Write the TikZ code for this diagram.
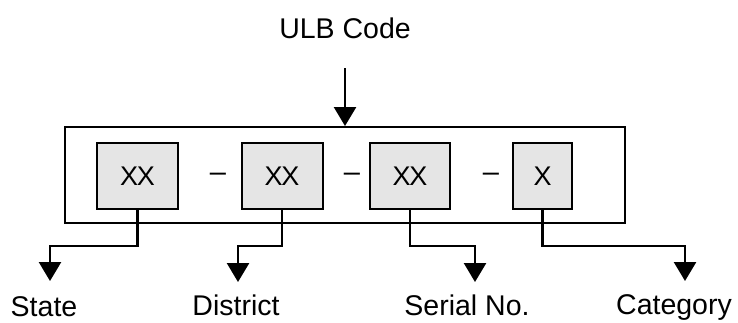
\documentclass[tikz,border=0pt]{standalone}
\usepackage{fontspec}
\setmainfont{Liberation Sans}
\usetikzlibrary{arrows.meta}
\tikzset{
  frame/.style={draw, line width=2pt, minimum width=560pt, minimum height=96pt, inner sep=0pt},
  field/.style={draw, line width=2pt, fill=black!10, minimum height=66pt, inner sep=0pt,
    font=\fontsize{27}{30}\selectfont},
  sep/.style={anchor=base, inner sep=0pt, font=\fontsize{29}{32}\selectfont},
  lbl/.style={anchor=base, inner sep=0pt, font=\fontsize{28.5}{32}\selectfont},
  conn/.style={line width=2.6pt, -{Triangle[width=22pt,length=19pt]}},
}
\begin{document}
\begin{tikzpicture}[x=1pt, y=-1pt]
  \useasboundingbox (0,0) rectangle (738,322);
  % heading and the main frame
  \node[lbl] (head) at (345,38) {ULB Code};
  \node[frame] (frame) at (345,175) {};
  \coordinate (top) at (345,68);
  \draw[conn] (top) -- (frame.north);
  % the four fields of the code
  \node[field, minimum width=81pt] (b1) at (137.5,176) {X\kern-1.5ptX};
  \node[field, minimum width=81pt] (b2) at (282,176) {X\kern-1.5ptX};
  \node[field, minimum width=80pt] (b3) at (410,176) {X\kern-1.5ptX};
  \node[field, minimum width=59pt] (b4) at (542.5,176) {X};
  \node[sep] (d1) at (218,181) {–};
  \node[sep] (d2) at (352,181) {–};
  \node[sep] (d3) at (491,181) {–};
  % arrow ends and labels
  \coordinate (t1) at (50,281);
  \coordinate (t2) at (238,282);
  \coordinate (t3) at (475,282);
  \coordinate (t4) at (685,281);
  \draw[conn] (b1.south) -- ++(0,36) -| (t1);
  \draw[conn] (b2.south) -- ++(0,36) -| (t2);
  \draw[conn] (b3.south) -- ++(0,36) -| (t3);
  \draw[conn] (b4.south) -- ++(0,36) -| (t4);
  \node[lbl] (l1) at (44,316) {State};
  \node[lbl] (l2) at (236,315) {District};
  \node[lbl] (l3) at (467,315) {Serial No.};
  \node[lbl] (l4) at (674,314) {Category};
\end{tikzpicture}
\end{document}
